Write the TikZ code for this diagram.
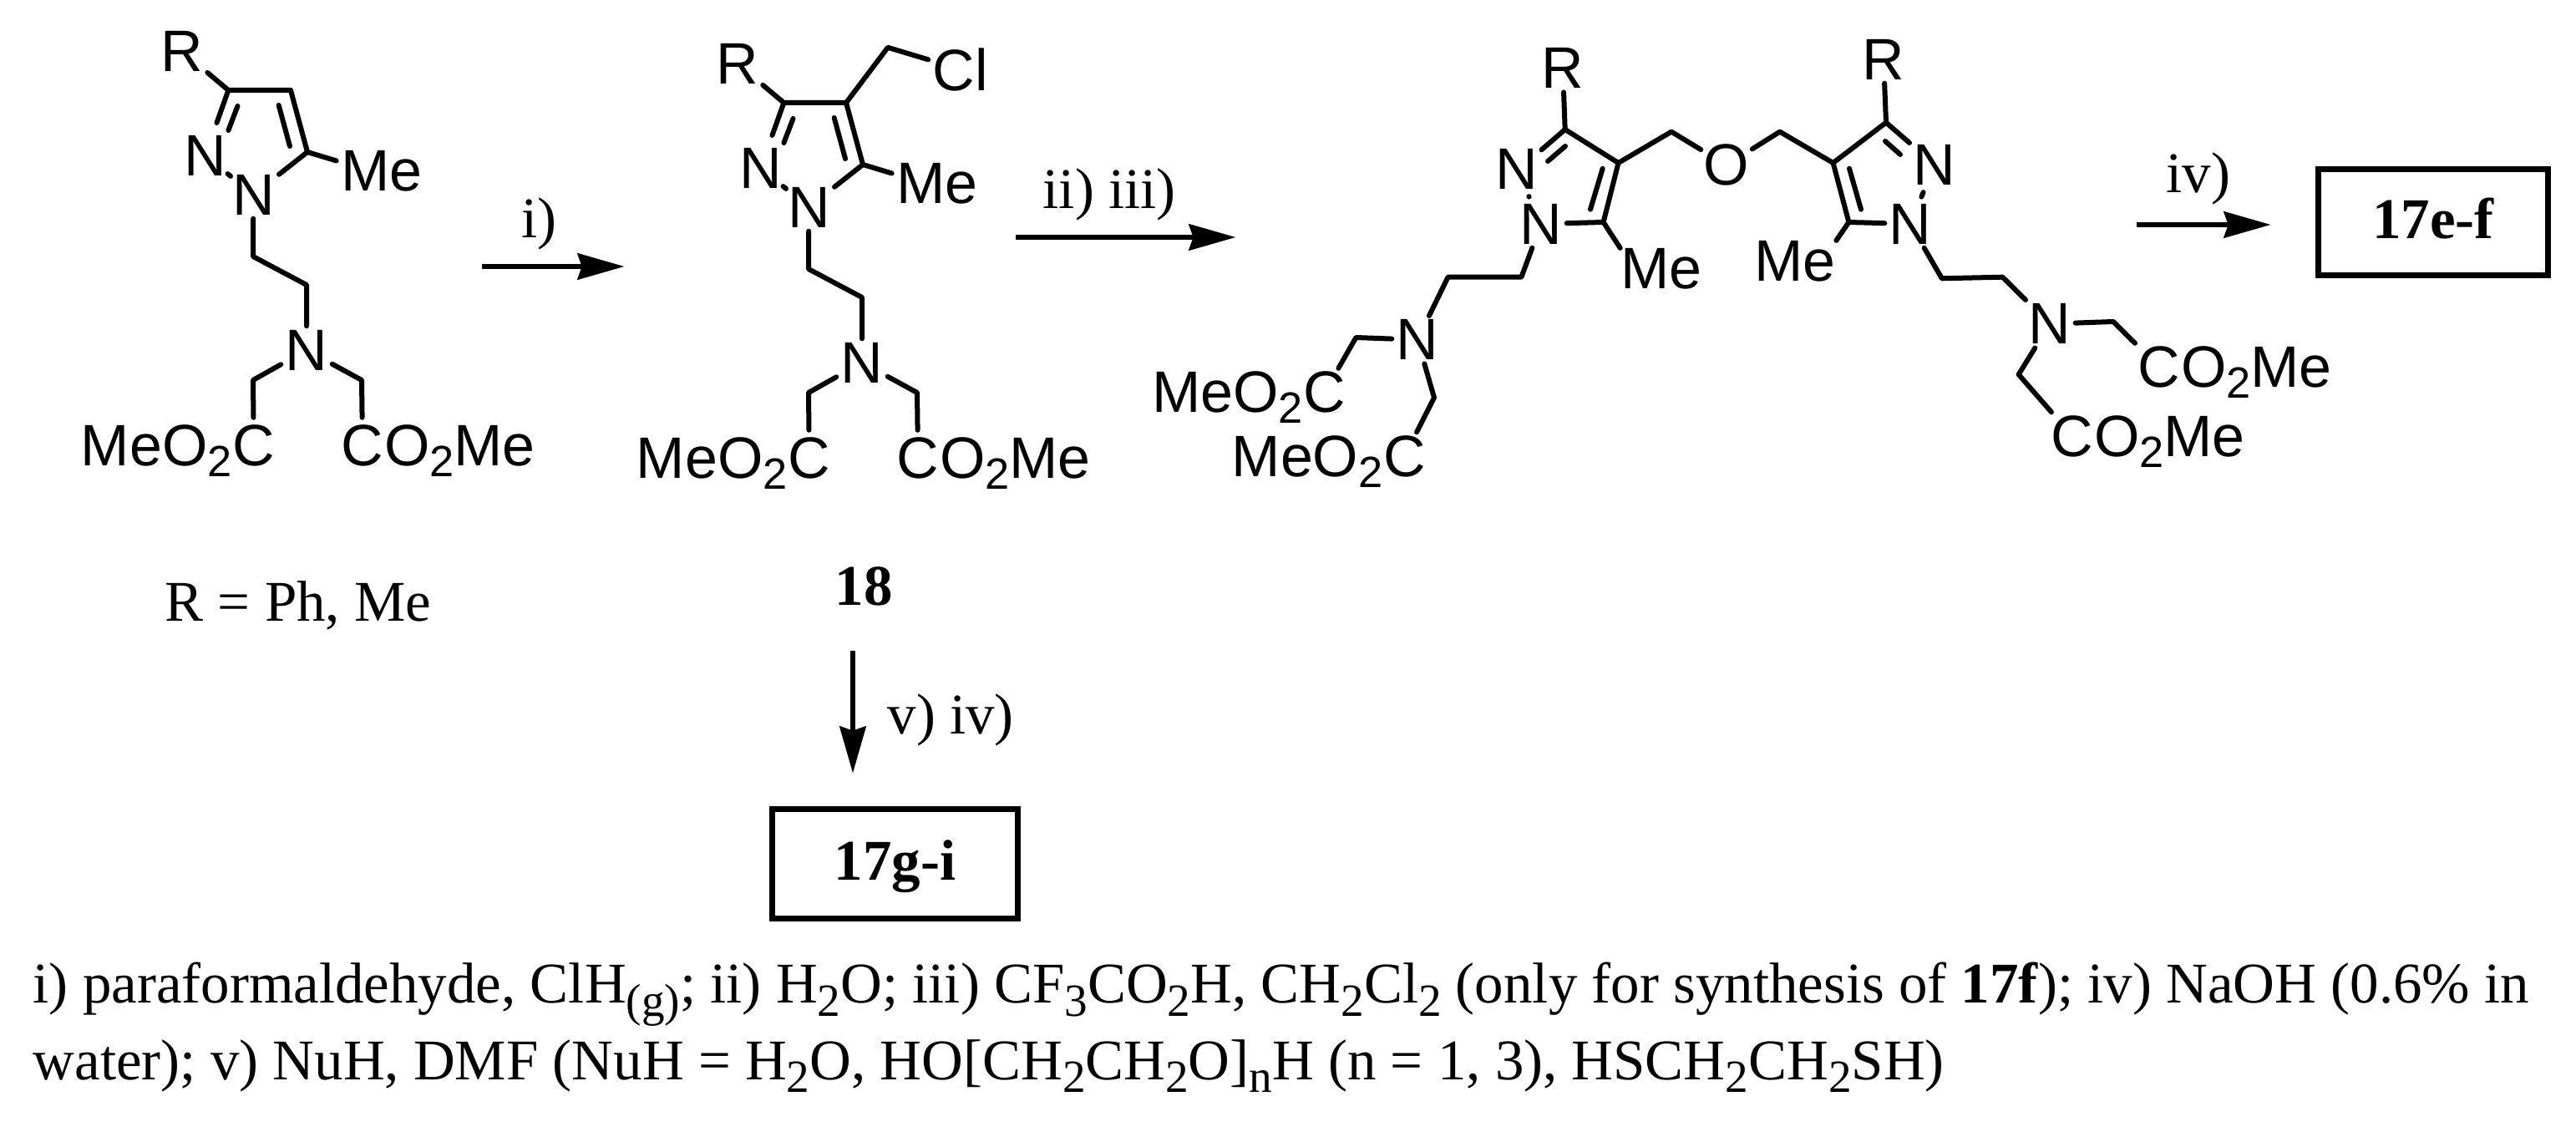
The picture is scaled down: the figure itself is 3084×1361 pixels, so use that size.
\documentclass[tikz,border=0pt]{standalone}
\usepackage{fontspec}
\setmainfont{Liberation Serif}
\setsansfont{Liberation Sans}
\usetikzlibrary{arrows.meta}

\newcommand{\sanslow}[1]{\raisebox{-0.19em}{\fontsize{14.9}{16}\selectfont #1}}
\newcommand{\seriflow}[1]{\raisebox{-0.23em}{\fontsize{15.7}{16}\selectfont #1}}

\tikzset{
	bond/.style={line width=0.06cm, line cap=round, line join=round},
	chem/.style={font=\sffamily\fontsize{19.9}{24}\selectfont, inner sep=0},
	atom/.style={chem, minimum width=0.6cm, minimum height=0.56cm},
	endc/.style={atom, minimum height=0.66cm},
	lab/.style={font=\fontsize{19.6}{24}\selectfont, inner sep=0, anchor=base west},
	arr/.style={line width=0.068cm, -{Stealth[length=0.56cm, width=0.31cm, inset=0.05cm]}},
	cbox/.style={draw, line width=0.07cm, font=\bfseries\fontsize{19.6}{24}\selectfont, text height=0.476cm, text depth=0.083cm, inner sep=0}
}

\begin{document}
\begin{tikzpicture}[x=0.01cm, y=-0.01cm]
	\useasboundingbox (0,0) rectangle (3084,1361);

	% the two monomers
	\foreach \p/\sx/\sy in {a/0/0, b/665/15} {
		\begin{scope}[shift={(\sx,\sy)}, name prefix=\p-]
			\coordinate (C3) at (273.4,108);
			\coordinate (C4) at (348,108);
			\coordinate (C5) at (368,182);
			\coordinate (D1) at (259.5,147);
			\coordinate (D2) at (284.5,127);
			\coordinate (D3) at (273.4,156);
			\coordinate (D4) at (333.7,126);
			\coordinate (D5) at (347,175);
			\coordinate (E1) at (303,307);
			\coordinate (E2) at (367,341);
			\coordinate (F1) at (303,455);
			\coordinate (F2) at (433,455);

			\node[atom] (R) at (217.6,61) {R};
			\node[atom] (N2) at (245.3,186) {N};
			\node[atom] (N1) at (303.3,233) {N};
			\node[atom] (N3) at (367,419) {N};
			\node[chem, inner sep=0.05cm] (Me) at (457,205) {Me};
			\node[endc] (Ca) at (303.8,533.5) {C};
			\node[endc] (Cb) at (434,533.5) {C};
			\node[chem, anchor=base east, xshift=-0.253cm] (Ta) at (Ca.base) {MeO\sanslow{2}};
			\node[chem, anchor=base west, xshift=0.253cm] (Tb) at (Cb.base) {O\sanslow{2}Me};

			\draw[bond] (R) -- (C3) -- (C4) -- (C5) -- (N1);
			\draw[bond] (C3) -- (D1);
			\draw[bond] (D2) -- (D3);
			\draw[bond] (D4) -- (D5);
			\draw[bond] (N2) -- (N1);
			\draw[bond] (C5) -- (Me.167);
			\draw[bond] (N1) -- (E1) -- (E2) -- (N3);
			\draw[bond] (N3) -- (F1) -- (Ca);
			\draw[bond] (N3) -- (F2) -- (Cb);
		\end{scope}
	}

	% chloromethyl on 18
	\coordinate (CH) at (1062.9,56.8);
	\node[chem, inner sep=0.05cm] (Cl) at (1150,83) {Cl};
	\draw[bond] (b-C4) -- (CH) -- (Cl);

	% the ether, left half
	\coordinate (LC3) at (1873.7,155);
	\coordinate (LC4) at (1937.5,195);
	\coordinate (LC5) at (1919.6,266);
	\coordinate (LD1) at (1845.5,179.3);
	\coordinate (LD2) at (1874,175);
	\coordinate (LD3) at (1853,193);
	\coordinate (LD4) at (1918.7,201.7);
	\coordinate (LD5) at (1904,250.7);
	\coordinate (LE1) at (1821.4,331.7);
	\coordinate (LE2) at (1733.5,331.7);
	\coordinate (LF1) at (1623.4,404);
	\coordinate (LF2) at (1717,476);
	\coordinate (LG) at (2001,157.7);

	\node[atom] (LR) at (1871,81.7) {R};
	\node[atom] (LN2) at (1816,202.7) {N};
	\node[atom] (LN1) at (1845,268) {N};
	\node[atom] (LN3) at (1697,406.7) {N};
	\node[chem] (LMe) at (1989,322) {Me};
	\node[atom] (LCa) at (1586,469.5) {C};
	\node[atom] (LCb) at (1681.5,546) {C};
	\node[chem, anchor=base east, xshift=-0.253cm] (LTa) at (LCa.base) {MeO\sanslow{2}};
	\node[chem, anchor=base east, xshift=-0.253cm] (LTb) at (LCb.base) {MeO\sanslow{2}};
	\node[atom] (O) at (2067,197.7) {O};

	\draw[bond] (LR) -- (LC3) -- (LC4) -- (LC5) -- (LN1);
	\draw[bond] (LC3) -- (LD1);
	\draw[bond] (LD2) -- (LD3);
	\draw[bond] (LD4) -- (LD5);
	\draw[bond, shorten >=0.04cm, shorten <=0.04cm] (LN2) -- (LN1);
	\draw[bond] (LC5) -- (LMe.north west);
	\draw[bond] (LN1) -- (LE1) -- (LE2) -- (LN3);
	\draw[bond] (LN3) -- (LF1) -- (LCa);
	\draw[bond] (LN3) -- (LF2) -- (LCb);
	\draw[bond] (LC4) -- (LG) -- (O);

	% the ether, right half
	\coordinate (HC3) at (2258,146.7);
	\coordinate (HC4) at (2194.6,195);
	\coordinate (HC5) at (2213.4,266);
	\coordinate (HD1) at (2286,171);
	\coordinate (HD2) at (2257,169);
	\coordinate (HD3) at (2275,185);
	\coordinate (HD4) at (2214,201.7);
	\coordinate (HD5) at (2228,250.7);
	\coordinate (HE1) at (2324.8,333.3);
	\coordinate (HE2) at (2397.4,331.7);
	\coordinate (HF1) at (2530,385);
	\coordinate (HF2) at (2416.7,448.3);
	\coordinate (HG) at (2130.8,157.7);

	\node[atom] (HR) at (2255,71) {R};
	\node[atom] (HN2) at (2316,197.7) {N};
	\node[atom] (HN1) at (2287,268) {N};
	\node[atom] (HN3) at (2454,387.7) {N};
	\node[chem] (HMe) at (2149,313) {Me};
	\node[atom] (HCa) at (2585,439.5) {C};
	\node[atom] (HCb) at (2481,522) {C};
	\node[chem, anchor=base west, xshift=0.253cm] (HTa) at (HCa.base) {O\sanslow{2}Me};
	\node[chem, anchor=base west, xshift=0.253cm] (HTb) at (HCb.base) {O\sanslow{2}Me};

	\draw[bond] (HR) -- (HC3) -- (HC4) -- (HC5) -- (HN1);
	\draw[bond] (HC3) -- (HD1);
	\draw[bond] (HD2) -- (HD3);
	\draw[bond] (HD4) -- (HD5);
	\draw[bond, shorten >=0.04cm, shorten <=0.04cm] (HN2) -- (HN1);
	\draw[bond] (HC5) -- (HMe.north east);
	\draw[bond] (HN1) -- (HE1) -- (HE2) -- (HN3);
	\draw[bond] (HN3) -- (HF1) -- (HCa);
	\draw[bond] (HN3) -- (HF2) -- (HCb);
	\draw[bond] (HC4) -- (HG) -- (O);

	% reaction arrows
	\coordinate (i1) at (576.5,319);
	\coordinate (i2) at (747.7,319);
	\coordinate (ii1) at (1215.5,284);
	\coordinate (ii2) at (1479.6,284);
	\coordinate (iv1) at (2557.7,269);
	\coordinate (iv2) at (2718.7,269);
	\coordinate (v1) at (1021,779);
	\coordinate (v2) at (1021,925.7);
	\draw[arr] (i1) -- (i2);
	\draw[arr] (ii1) -- (ii2);
	\draw[arr] (iv1) -- (iv2);
	\draw[arr] (v1) -- (v2);

	\node[lab] (li) at (624,285) {i)};
	\node[lab] (lii) at (1248,250) {ii) iii)};
	\node[lab] (liv) at (2593,230.7) {iv)};
	\node[lab] (lv) at (1062,878) {v) iv)};

	\node[cbox, minimum width=2.75cm, minimum height=1.26cm] (bxE) at (2913,266) {17e-f};
	\node[cbox, minimum width=2.93cm, minimum height=1.3cm] (bxG) at (1071.5,1034) {17g-i};

	\node[lab] (rdef) at (197,743.3) {R = Ph, Me};
	\node[lab, font=\bfseries\fontsize{19.6}{24}\selectfont] (n18) at (999,724) {18};

	% conditions
	\node[lab] (cond1) at (39,1200.7) {i) paraformaldehyde, ClH\seriflow{(g)}; ii) H\seriflow{2}O; iii) CF\seriflow{3}CO\seriflow{2}H, CH\seriflow{2}Cl\seriflow{2} (only for synthesis of \textbf{17f}); iv) NaOH (0.6\% in};
	\node[lab] (cond2) at (39,1292) {water); v) NuH, DMF (NuH = H\seriflow{2}O, HO[CH\seriflow{2}CH\seriflow{2}O]\seriflow{n}H (n = 1, 3), HSCH\seriflow{2}CH\seriflow{2}SH)};
\end{tikzpicture}
\end{document}
